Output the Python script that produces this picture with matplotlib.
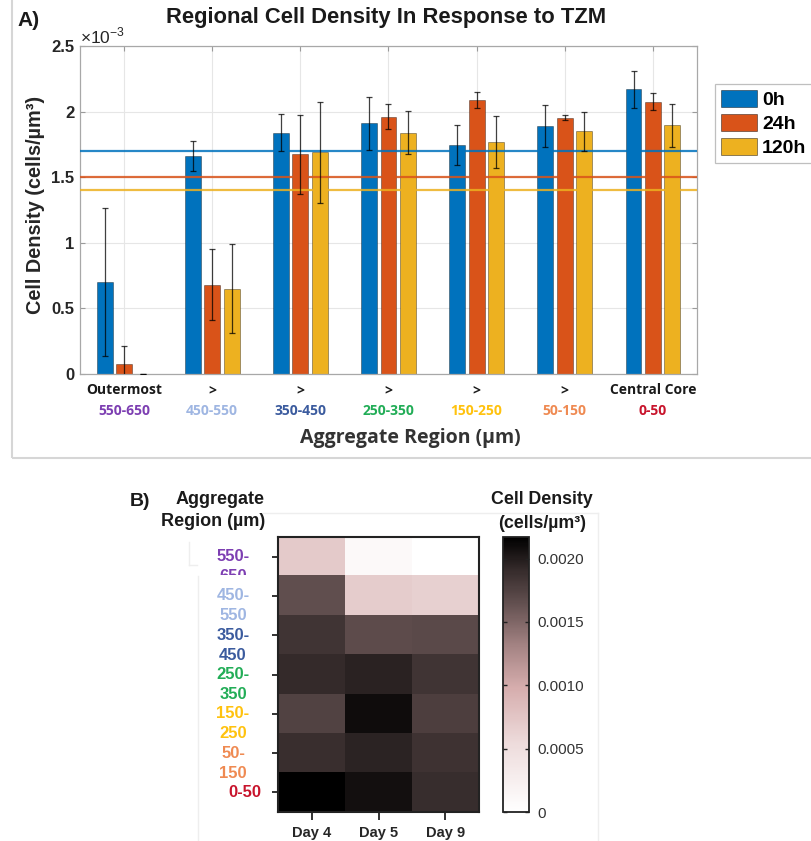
import numpy as np
import matplotlib.pyplot as plt
from matplotlib.colors import LinearSegmentedColormap
from matplotlib.patches import Rectangle, Patch
from matplotlib.lines import Line2D
from matplotlib.transforms import Bbox, TransformedBbox, blended_transform_factory, offset_copy

W, H = 812, 841

# region / group labels
regions = ["550-650", "450-550", "350-450", "250-350", "150-250", "50-150", "0-50"]
top_labels = ["Outermost", ">", ">", ">", ">", ">", "Central Core"]
region_colors = ["#7d3fb2", "#9fb6e2", "#3b5b9e", "#22ad57", "#ffc20e", "#ef8a52", "#c8142c"]
time_labels = ["0h", "24h", "120h"]
day_labels = ["Day 4", "Day 5", "Day 9"]
bar_colors = ["#0072bd", "#d95319", "#edb120"]

# cell density (x 1e-3 cells/um^3), outermost -> central core
dens_0h = [0.70, 1.66, 1.84, 1.91, 1.745, 1.89, 2.17]
dens_24h = [0.08, 0.68, 1.675, 1.96, 2.09, 1.955, 2.075]
dens_120h = [0.003, 0.65, 1.69, 1.84, 1.77, 1.85, 1.895]
err_0h = [0.565, 0.115, 0.14, 0.20, 0.155, 0.16, 0.14]
err_24h = [0.13, 0.27, 0.30, 0.095, 0.06, 0.02, 0.065]
err_120h = [0.0, 0.34, 0.385, 0.165, 0.20, 0.15, 0.165]
ref_lines = [1.70, 1.50, 1.40]


def box(x0, y0, x1, y1):
    return [x0 / W, 1 - y1 / H, (x1 - x0) / W, (y1 - y0) / H]


def fx(px):
    return px / W


def fy(py):
    return 1 - py / H


fig = plt.figure(figsize=(W / 100, H / 100), dpi=100)
hel = "Liberation Sans"
cal = "Open Sans"

# ---------------- Panel A: grouped bars ----------------
fig.add_artist(Rectangle((fx(12), fy(458)), 1.0, 1.0, transform=fig.transFigure,
                         fill=False, edgecolor="#d6d6d6", lw=1.5))

ax = fig.add_axes(box(80, 46, 697, 374))
x = np.arange(1, len(regions) + 1)
offsets = [-0.22, 0.0, 0.22]
all_dens = [dens_0h, dens_24h, dens_120h]
all_err = [err_0h, err_24h, err_120h]
for off, d, e, c in zip(offsets, all_dens, all_err, bar_colors):
    ax.bar(x + off, d, width=0.18, color=c, edgecolor=(0, 0, 0, 0.4), lw=0.6, zorder=2)
    ax.errorbar(x + off, d, yerr=e, fmt="none", ecolor="black", elinewidth=0.9,
                capsize=2.5, capthick=0.9, alpha=0.75, zorder=4)
for val, c in zip(ref_lines, bar_colors):
    ax.axhline(val, color=c, lw=1.6, alpha=0.85, zorder=3)

ax.set_xlim(0.5, 7.5)
ax.set_ylim(0, 2.5)
ax.set_yticks([0, 0.5, 1, 1.5, 2, 2.5])
ax.set_yticklabels(["0", "0.5", "1", "1.5", "2", "2.5"], fontfamily=hel,
                   fontweight="bold", fontsize=12, color="#262626")
ax.set_xticks(x)
ax.set_xticklabels([])
ax.tick_params(direction="in", length=3.5, width=0.8, color="#9a9a9a",
               top=True, right=True, pad=4)
ax.grid(True, color="#e6e6e6", lw=0.8, zorder=0)
ax.set_axisbelow(True)
for s in ax.spines.values():
    s.set_color("#a8a8a8")
    s.set_linewidth(0.9)

ax.text(0.0, 1.0, "×10$^{\\mathregular{-3}}$", transform=ax.transAxes, ha="left",
        va="bottom", fontfamily=hel, fontsize=12.5, color="#262626")

lab_tr = blended_transform_factory(ax.transData, fig.transFigure)
for xi, t1, t2, c in zip(x, top_labels, regions, region_colors):
    ax.text(xi, fy(390), t1, transform=lab_tr, ha="center", va="center",
            fontfamily=cal, fontweight="bold", fontsize=10, color="#1a1a1a")
    ax.text(xi, fy(411), t2, transform=lab_tr, ha="center", va="center",
            fontfamily=cal, fontweight="bold", fontsize=10, color=c)

fig.text(fx(386), fy(17), "Regional Cell Density In Response to TZM", ha="center",
         va="center", fontfamily=hel, fontweight="bold", fontsize=15.8, color="#1a1a1a")
fig.text(fx(17), fy(20), "A)", ha="left", va="center", fontfamily=hel,
         fontweight="bold", fontsize=15, color="#1a1a1a")
fig.text(fx(36), fy(205), "Cell Density (cells/µm³)", rotation=90, ha="center",
         va="center", fontfamily=hel, fontweight="bold", fontsize=14.3, color="#262626")
fig.text(fx(410), fy(438), "Aggregate Region (µm)", ha="center", va="center",
         fontfamily=cal, fontweight="bold", fontsize=14, color="#333333")

handles = [Patch(facecolor=c, edgecolor=(0, 0, 0, 0.5), lw=0.6) for c in bar_colors]
leg = fig.legend(handles, time_labels, loc="upper left", bbox_to_anchor=(fx(715), fy(84)),
                 frameon=True, fancybox=False, edgecolor="#b0b0b0",
                 prop=dict(family=hel, weight="bold", size=14),
                 handlelength=1.85, handleheight=0.95, handletextpad=0.25,
                 labelspacing=0.25, borderpad=0.32, borderaxespad=0)
leg.get_frame().set_linewidth(0.9)

# ---------------- Panel B: heatmap ----------------
heat = np.array(all_dens).T * 1e-3
cmap = LinearSegmentedColormap.from_list("dens", [
    (0.0, (1.0, 1.0, 1.0)),
    (0.25, (0.93, 0.86, 0.86)),
    (0.45, (0.84, 0.68, 0.68)),
    (0.6, (0.65, 0.52, 0.52)),
    (0.77, (0.37, 0.30, 0.30)),
    (0.88, (0.21, 0.17, 0.17)),
    (1.0, (0.0, 0.0, 0.0)),
])

# faint edges of the pasted sub-images
for xs, ys in [((198, 198), (576, 841)), ((598, 598), (513, 841)),
               ((263, 598), (513, 513)), ((189, 189), (542, 565)),
               ((189, 197), (565, 565))]:
    fig.add_artist(Line2D([fx(v) for v in xs], [fy(v) for v in ys],
                          transform=fig.transFigure, color="#eeeeee", lw=1))

axh = fig.add_axes(box(278, 537, 479, 812))
im = axh.imshow(heat, cmap=cmap, vmin=0, vmax=heat.max(), aspect="auto",
                interpolation="nearest")
axh.set_xticks(range(len(day_labels)))
axh.set_xticklabels(day_labels, fontfamily=hel, fontweight="bold", fontsize=10.5,
                    color="#262626")
axh.set_yticks(range(len(regions)))
axh.set_yticklabels([])
axh.tick_params(axis="x", direction="out", length=6, width=1.3, color="#222222", pad=4)
axh.tick_params(axis="y", direction="out", length=4, width=1.3, color="#222222")
for s in axh.spines.values():
    s.set_color("#222222")
    s.set_linewidth(1.5)

row_tr = blended_transform_factory(fig.transFigure, axh.transData)
row_tr2 = offset_copy(row_tr, fig=fig, y=-20, units="dots")
for i, (r, c) in enumerate(zip(regions, region_colors)):
    if "-" in r and i < len(regions) - 1:
        a, b = r.split("-")
        fig.text(fx(233), i, a + "-", transform=row_tr, ha="center", va="center",
                 fontfamily=hel, fontweight="bold", fontsize=12, color=c)
        t2 = fig.text(fx(233), i, b, transform=row_tr2, ha="center", va="center",
                      fontfamily=hel, fontweight="bold", fontsize=12, color=c)
        if i == 0:
            t2.set_clip_box(TransformedBbox(Bbox.from_extents(0, fy(575), 1, 1),
                                            fig.transFigure))
            t2.set_clip_on(True)
    else:
        fig.text(fx(245), i, r, transform=row_tr, ha="center", va="center",
                 fontfamily=hel, fontweight="bold", fontsize=12, color=c)

fig.text(fx(130), fy(502), "B)", ha="left", va="center", fontfamily=hel,
         fontweight="bold", fontsize=14, color="#1a1a1a")
fig.text(fx(265), fy(499), "Aggregate", ha="right", va="center", fontfamily=hel,
         fontweight="bold", fontsize=13, color="#1a1a1a")
fig.text(fx(265), fy(522), "Region (µm)", ha="right", va="center", fontfamily=hel,
         fontweight="bold", fontsize=13, color="#1a1a1a")

cax = fig.add_axes(box(503, 537, 529, 812))
cb = fig.colorbar(im, cax=cax)
cb.set_ticks([0, 0.0005, 0.0010, 0.0015, 0.0020])
cb.set_ticklabels(["0", "0.0005", "0.0010", "0.0015", "0.0020"])
cb.ax.tick_params(direction="in", length=3, width=1, left=True, right=True,
                  labelsize=11, labelcolor="#333333", color="#222222", pad=6)
for t in cb.ax.get_yticklabels():
    t.set_fontfamily(hel)
cb.outline.set_edgecolor("#222222")
cb.outline.set_linewidth(1.3)

fig.text(fx(542), fy(500), "Cell Density", ha="center", va="center", fontfamily=hel,
         fontweight="bold", fontsize=12.8, color="#1a1a1a")
fig.text(fx(542), fy(523), "(cells/µm³)", ha="center", va="center", fontfamily=hel,
         fontweight="bold", fontsize=12.8, color="#1a1a1a")

fig.savefig("out.png", dpi=100, facecolor="white")
